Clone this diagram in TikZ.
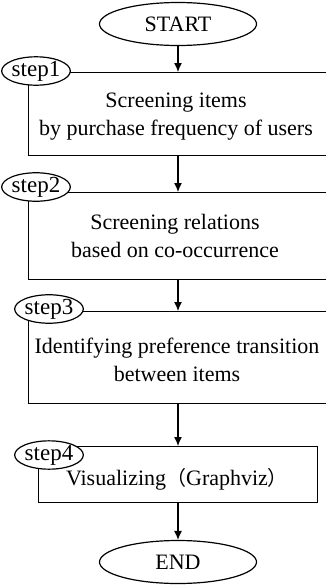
\documentclass[tikz,border=0pt]{standalone}
\usepackage{fontspec}
\setmainfont{Liberation Serif}
\newfontfamily\cjk{Noto Sans CJK SC}
\usetikzlibrary{shapes.geometric,arrows.meta}
\begin{document}
\begin{tikzpicture}[x=1pt,y=-1pt,line width=1.2pt,
  term/.style={draw,ellipse,minimum width=157pt,minimum height=43pt,inner sep=0pt,
    font=\fontsize{22}{26}\selectfont},
  tag/.style={draw,ellipse,fill=white,minimum width=68pt,minimum height=26pt,inner sep=0pt,
    font=\fontsize{23}{26}\selectfont},
  stepbox/.style={draw,rectangle,inner sep=0pt,anchor=north west},
  label/.style={align=center,inner sep=0pt,font=\fontsize{22}{28}\selectfont},
  flow/.style={-{Latex[length=9pt,width=8pt]}}]
\useasboundingbox (0,0) rectangle (326,587);
\clip (0,0) rectangle (326,587);

% terminals
\node[term] (start) at (178,24) {START};
\node[term] (end) at (178,562) {END};

% process boxes (the first three run off the right side)
\node[stepbox,minimum width=312pt,minimum height=83pt] (b1) at (28,72) {};
\node[stepbox,minimum width=312pt,minimum height=87pt] (b2) at (28,192) {};
\node[stepbox,minimum width=312pt,minimum height=92pt] (b3) at (28,311) {};
\node[stepbox,minimum width=279pt,minimum height=56pt] (b4) at (38,446) {};

% step tags on the top-left corners
\node[tag] (s1) at (36,71) {step1};
\node[tag] (s2) at (36,187) {step2};
\node[tag] (s3) at (49,309) {step3};
\node[tag] (s4) at (49,455) {step4};

% box texts
\node[label] (t1) at (176,117) {Screening items\\by purchase frequency of users};
\node[label] (t2) at (175,236) {Screening relations\\based on co-occurrence};
\node[label] (t3) at (177,360) {Identifying preference transition\\between items};
\node[label] (t4) at (177,479) {Visualizing{\cjk\fontsize{20}{28}\selectfont （}Graphviz{\cjk\fontsize{20}{28}\selectfont ）}};

% flow arrows
\draw[flow] (start.south) -- (start.south |- b1.north);
\draw[flow] (start.south |- b1.south) -- (start.south |- b2.north);
\draw[flow] (start.south |- b2.south) -- (start.south |- b3.north);
\draw[flow] (start.south |- b3.south) -- (start.south |- b4.north);
\draw[flow] (start.south |- b4.south) -- (end.north);
\end{tikzpicture}
\end{document}
